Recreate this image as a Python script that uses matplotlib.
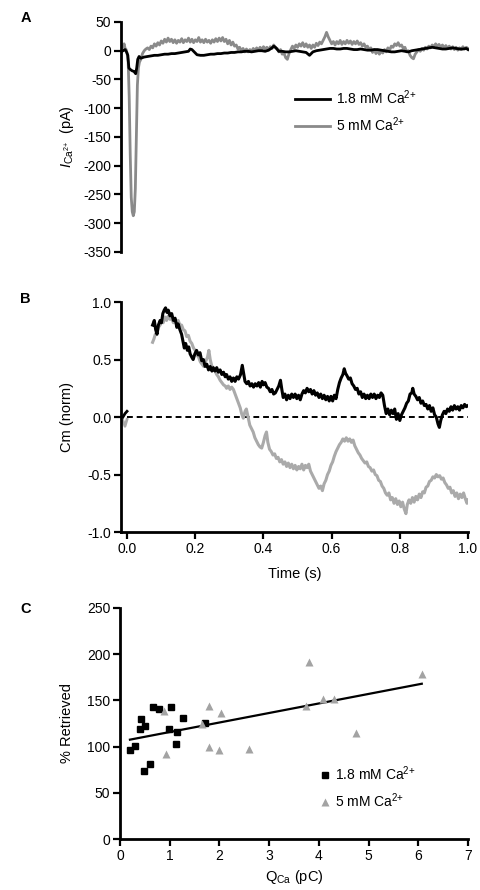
import matplotlib
matplotlib.use("Agg")
from matplotlib import pyplot as plt

plt.rcParams['font.family'] = ['Liberation Sans', 'DejaVu Sans']
plt.rcParams['mathtext.fontset'] = 'custom'
plt.rcParams['mathtext.rm'] = 'Liberation Sans'
plt.rcParams['mathtext.it'] = 'Liberation Sans:italic'
plt.rcParams['axes.unicode_minus'] = False
plt.rcParams['font.size'] = 10

# Panel A: calcium currents (time in s, current in pA)
t_a_low = [-0.018, -0.012, -0.006, -0.002, 0.002, 0.005, 0.010, 0.015, 0.020, 0.025, 0.028, 0.031, 0.035,
           0.040, 0.050, 0.060, 0.070, 0.080, 0.090, 0.100, 0.110, 0.120, 0.130, 0.140, 0.150, 0.160,
           0.170, 0.180, 0.185, 0.190, 0.200, 0.205, 0.215, 0.225, 0.235, 0.245, 0.255, 0.265, 0.275,
           0.285, 0.295, 0.305, 0.315, 0.325, 0.335, 0.345, 0.355, 0.365, 0.375, 0.385, 0.395, 0.405,
           0.415, 0.425, 0.430, 0.435, 0.445, 0.455, 0.465, 0.475, 0.485, 0.495, 0.505, 0.515, 0.525,
           0.535, 0.545, 0.555, 0.565, 0.575, 0.585, 0.595, 0.605, 0.615, 0.625, 0.635, 0.645, 0.655,
           0.665, 0.675, 0.685, 0.695, 0.705, 0.715, 0.725, 0.735, 0.745, 0.755, 0.765, 0.775, 0.785,
           0.795, 0.805, 0.815, 0.825, 0.835, 0.845, 0.855, 0.865, 0.875, 0.885, 0.895, 0.905, 0.915,
           0.925, 0.935, 0.945, 0.955, 0.965, 0.975, 0.985, 0.995, 1.000]
i_a_low = [-2, 0, 2, -2, -8, -30, -33, -35, -36, -40, -30, -15, -10,
           -13, -11, -10, -9, -8, -8, -7, -6, -6, -5, -5, -4, -3,
           -2, -1, 3, 2, -4, -7, -8, -8, -7, -6, -6, -5, -5,
           -4, -4, -3, -3, -2, -2, -1, -1, -2, -1, 0, 0, -1,
           1, 5, 8, 6, -1, -1, -2, -2, -1, 0, -1, -2, -3,
           -8, -2, 0, 1, 2, 3, 4, 4, 3, 3, 4, 4, 3,
           2, 2, 3, 2, 1, 1, 2, 2, 1, 0, -1, -2, -2,
           -1, 0, -1, -2, 0, 1, 2, 3, 4, 5, 6, 5, 4,
           3, 3, 4, 5, 4, 3, 3, 4, 2]

t_a_high = [-0.018, -0.015, -0.012, -0.009, -0.006, -0.003, 0.000, 0.003, 0.006, 0.009, 0.012, 0.015,
            0.018, 0.021, 0.024, 0.027, 0.030, 0.033, 0.036, 0.040, 0.045, 0.050, 0.055, 0.060, 0.065,
            0.070, 0.075, 0.080, 0.085, 0.090, 0.095, 0.100, 0.105, 0.110, 0.115, 0.120, 0.125, 0.130,
            0.135, 0.140, 0.145, 0.150, 0.155, 0.160, 0.165, 0.170, 0.175, 0.180, 0.185, 0.190, 0.195,
            0.200, 0.205, 0.210, 0.215, 0.220, 0.225, 0.230, 0.235, 0.240, 0.245, 0.250, 0.255, 0.260,
            0.265, 0.270, 0.275, 0.280, 0.285, 0.290, 0.295, 0.300, 0.305, 0.310, 0.315, 0.320, 0.325,
            0.330, 0.335, 0.340, 0.345, 0.350, 0.355, 0.360, 0.365, 0.370, 0.375, 0.380, 0.385, 0.390,
            0.395, 0.400, 0.405, 0.410, 0.415, 0.420, 0.425, 0.430, 0.435, 0.440, 0.445, 0.450, 0.455,
            0.460, 0.465, 0.470, 0.475, 0.480, 0.485, 0.490, 0.495, 0.500, 0.505, 0.510, 0.515, 0.520,
            0.525, 0.530, 0.535, 0.540, 0.545, 0.550, 0.555, 0.560, 0.565, 0.570, 0.575, 0.580, 0.585,
            0.590, 0.595, 0.600, 0.605, 0.610, 0.615, 0.620, 0.625, 0.630, 0.635, 0.640, 0.645, 0.650,
            0.655, 0.660, 0.665, 0.670, 0.675, 0.680, 0.685, 0.690, 0.695, 0.700, 0.705, 0.710, 0.715,
            0.720, 0.725, 0.730, 0.735, 0.740, 0.745, 0.750, 0.755, 0.760, 0.765, 0.770, 0.775, 0.780,
            0.785, 0.790, 0.795, 0.800, 0.805, 0.810, 0.815, 0.820, 0.825, 0.830, 0.835, 0.840, 0.845,
            0.850, 0.855, 0.860, 0.865, 0.870, 0.875, 0.880, 0.885, 0.890, 0.895, 0.900, 0.905, 0.910,
            0.915, 0.920, 0.925, 0.930, 0.935, 0.940, 0.945, 0.950, 0.955, 0.960, 0.965, 0.970, 0.975,
            0.980, 0.985, 0.990, 0.995, 1.000]
i_a_high = [5, 10, 6, 12, 4, 2, -5, -20, -80, -180, -255, -280,
            -287, -280, -240, -150, -60, -30, -20, -15, -5, 0, 3, 5, 2,
            8, 5, 12, 8, 14, 10, 17, 13, 20, 15, 22, 16, 20,
            14, 19, 13, 18, 15, 21, 14, 19, 16, 22, 15, 20, 14,
            19, 16, 23, 15, 19, 14, 20, 15, 18, 13, 19, 15, 21,
            16, 22, 17, 23, 16, 20, 12, 18, 10, 15, 8, 10, 3,
            6, 0, 4, -2, 3, -2, 2, -1, 4, 0, 5, 1, 6,
            2, 7, 3, 6, 1, 7, 4, 10, 5, 4, -2, 2, -6,
            -4, -12, -15, -5, 2, 8, 4, 10, 6, 12, 8, 14, 7,
            12, 6, 10, 4, 10, 6, 13, 9, 15, 12, 18, 24, 32,
            24, 18, 12, 16, 10, 16, 12, 18, 11, 16, 12, 18, 13,
            17, 11, 16, 12, 17, 11, 14, 8, 12, 6, 8, 2, 5,
            -3, 2, -5, 0, -6, -1, -4, 2, -2, 5, 1, 8, 6,
            12, 9, 14, 8, 10, 4, 6, -2, 0, -8, -12, -14, -6,
            -2, 2, -1, 4, 1, 6, 3, 8, 5, 10, 7, 12, 8,
            11, 6, 10, 5, 9, 4, 8, 3, 7, 2, 6, 1, 5,
            2, 7, 3, 6, 4]

# Panel B: normalised capacitance
t_b_pre = [-0.012, -0.006, 0.000]
cm_b_low_pre = [0.00, 0.03, 0.05]
cm_b_high_pre = [-0.03, -0.08, -0.02]

t_b_low = [0.075, 0.080, 0.084, 0.088, 0.092, 0.097, 0.101, 0.105, 0.109, 0.113, 0.117, 0.121, 0.126,
           0.131, 0.136, 0.141, 0.146, 0.150, 0.155, 0.160, 0.164, 0.168, 0.172, 0.177, 0.181, 0.185,
           0.190, 0.194, 0.199, 0.204, 0.209, 0.214, 0.219, 0.224, 0.229, 0.234, 0.239, 0.244, 0.249,
           0.253, 0.258, 0.263, 0.268, 0.273, 0.278, 0.283, 0.288, 0.292, 0.297, 0.302, 0.307, 0.312,
           0.317, 0.322, 0.327, 0.333, 0.338, 0.342, 0.346, 0.351, 0.356, 0.361, 0.366, 0.371, 0.376,
           0.381, 0.386, 0.391, 0.396, 0.400, 0.405, 0.410, 0.415, 0.420, 0.425, 0.430, 0.435, 0.440,
           0.445, 0.450, 0.454, 0.458, 0.463, 0.468, 0.473, 0.478, 0.483, 0.488, 0.493, 0.498, 0.503,
           0.508, 0.513, 0.518, 0.523, 0.528, 0.533, 0.538, 0.543, 0.548, 0.553, 0.558, 0.563, 0.568,
           0.573, 0.578, 0.583, 0.588, 0.593, 0.598, 0.603, 0.608, 0.613, 0.618, 0.623, 0.628, 0.633,
           0.637, 0.641, 0.645, 0.650, 0.655, 0.660, 0.665, 0.670, 0.675, 0.680, 0.685, 0.690, 0.695,
           0.700, 0.705, 0.710, 0.715, 0.720, 0.725, 0.730, 0.735, 0.740, 0.745, 0.750, 0.755, 0.760,
           0.765, 0.770, 0.775, 0.780, 0.785, 0.790, 0.795, 0.800, 0.805, 0.810, 0.815, 0.820, 0.825,
           0.830, 0.835, 0.838, 0.842, 0.847, 0.852, 0.857, 0.862, 0.867, 0.872, 0.877, 0.882, 0.887,
           0.892, 0.897, 0.902, 0.907, 0.912, 0.916, 0.920, 0.925, 0.930, 0.935, 0.940, 0.945, 0.950,
           0.955, 0.960, 0.965, 0.970, 0.975, 0.980, 0.985, 0.990, 0.995, 1.000]
cm_b_low = [0.80, 0.84, 0.76, 0.72, 0.80, 0.84, 0.82, 0.90, 0.93, 0.95, 0.91, 0.93, 0.88,
            0.90, 0.84, 0.86, 0.78, 0.81, 0.76, 0.72, 0.66, 0.60, 0.64, 0.58, 0.61, 0.55,
            0.52, 0.50, 0.55, 0.58, 0.54, 0.56, 0.49, 0.50, 0.44, 0.46, 0.41, 0.44, 0.40,
            0.43, 0.40, 0.43, 0.39, 0.41, 0.37, 0.39, 0.35, 0.37, 0.33, 0.35, 0.31, 0.34,
            0.31, 0.35, 0.33, 0.37, 0.45, 0.38, 0.31, 0.29, 0.31, 0.27, 0.29, 0.26, 0.29,
            0.27, 0.30, 0.26, 0.31, 0.28, 0.30, 0.26, 0.25, 0.22, 0.24, 0.20, 0.21, 0.24,
            0.27, 0.32, 0.24, 0.17, 0.20, 0.15, 0.19, 0.16, 0.20, 0.17, 0.20, 0.16, 0.19,
            0.15, 0.20, 0.23, 0.21, 0.25, 0.22, 0.24, 0.20, 0.23, 0.19, 0.21, 0.17, 0.20,
            0.16, 0.19, 0.15, 0.18, 0.14, 0.18, 0.14, 0.19, 0.16, 0.24, 0.30, 0.34, 0.37,
            0.42, 0.38, 0.36, 0.33, 0.34, 0.29, 0.27, 0.24, 0.25, 0.20, 0.22, 0.17, 0.20,
            0.16, 0.19, 0.16, 0.20, 0.17, 0.20, 0.16, 0.19, 0.17, 0.21, 0.19, 0.10, 0.03,
            0.07, 0.02, 0.06, 0.03, 0.07, -0.02, 0.03, -0.03, 0.02, 0.05, 0.08, 0.12, 0.14,
            0.20, 0.21, 0.25, 0.20, 0.18, 0.15, 0.17, 0.12, 0.14, 0.10, 0.11, 0.07, 0.10,
            0.05, 0.08, 0.02, 0.00, -0.06, -0.09, -0.03, 0.02, 0.05, 0.03, 0.07, 0.05, 0.09,
            0.06, 0.10, 0.07, 0.09, 0.06, 0.10, 0.08, 0.11, 0.09, 0.10]

t_b_high = [0.075, 0.079, 0.083, 0.088, 0.092, 0.097, 0.102, 0.106, 0.111, 0.116, 0.121, 0.126, 0.131,
            0.136, 0.141, 0.146, 0.150, 0.155, 0.160, 0.165, 0.170, 0.175, 0.180, 0.185, 0.190, 0.195,
            0.200, 0.205, 0.210, 0.215, 0.220, 0.225, 0.230, 0.236, 0.240, 0.244, 0.248, 0.253, 0.258,
            0.263, 0.268, 0.273, 0.278, 0.283, 0.288, 0.292, 0.297, 0.302, 0.307, 0.312, 0.317, 0.322,
            0.327, 0.332, 0.336, 0.341, 0.346, 0.350, 0.355, 0.360, 0.365, 0.370, 0.375, 0.380, 0.385,
            0.390, 0.395, 0.400, 0.405, 0.409, 0.413, 0.418, 0.423, 0.428, 0.433, 0.438, 0.443, 0.448,
            0.453, 0.458, 0.463, 0.468, 0.473, 0.478, 0.483, 0.488, 0.493, 0.498, 0.503, 0.508, 0.513,
            0.518, 0.523, 0.528, 0.533, 0.538, 0.543, 0.548, 0.553, 0.558, 0.563, 0.568, 0.573, 0.578,
            0.583, 0.588, 0.593, 0.598, 0.603, 0.608, 0.613, 0.618, 0.623, 0.628, 0.633, 0.638, 0.643,
            0.648, 0.653, 0.658, 0.663, 0.668, 0.673, 0.678, 0.683, 0.688, 0.693, 0.698, 0.703, 0.708,
            0.713, 0.718, 0.723, 0.728, 0.733, 0.738, 0.743, 0.748, 0.753, 0.758, 0.763, 0.768, 0.773,
            0.778, 0.783, 0.788, 0.793, 0.798, 0.803, 0.808, 0.813, 0.818, 0.822, 0.827, 0.832, 0.837,
            0.842, 0.847, 0.852, 0.857, 0.862, 0.867, 0.872, 0.877, 0.882, 0.887, 0.892, 0.897, 0.902,
            0.907, 0.912, 0.917, 0.922, 0.927, 0.932, 0.937, 0.942, 0.947, 0.952, 0.957, 0.962, 0.967,
            0.972, 0.977, 0.982, 0.987, 0.992, 0.997, 1.000]
cm_b_high = [0.65, 0.68, 0.72, 0.74, 0.78, 0.80, 0.84, 0.82, 0.87, 0.84, 0.88, 0.85, 0.86,
             0.82, 0.85, 0.81, 0.84, 0.80, 0.80, 0.76, 0.75, 0.70, 0.71, 0.66, 0.64, 0.60,
             0.58, 0.54, 0.52, 0.48, 0.46, 0.44, 0.48, 0.52, 0.58, 0.50, 0.45, 0.42, 0.40,
             0.37, 0.35, 0.32, 0.30, 0.28, 0.27, 0.25, 0.27, 0.24, 0.26, 0.24, 0.20, 0.16,
             0.12, 0.08, 0.03, -0.01, 0.05, 0.07, 0.00, -0.07, -0.10, -0.13, -0.18, -0.21, -0.24,
             -0.26, -0.27, -0.22, -0.16, -0.13, -0.22, -0.28, -0.30, -0.33, -0.32, -0.36, -0.35, -0.39,
             -0.37, -0.41, -0.39, -0.43, -0.40, -0.44, -0.41, -0.45, -0.42, -0.46, -0.43, -0.45, -0.41,
             -0.46, -0.42, -0.44, -0.41, -0.47, -0.50, -0.53, -0.56, -0.59, -0.62, -0.60, -0.64, -0.58,
             -0.55, -0.50, -0.47, -0.42, -0.39, -0.34, -0.30, -0.27, -0.24, -0.22, -0.19, -0.21, -0.18,
             -0.21, -0.19, -0.22, -0.20, -0.25, -0.28, -0.31, -0.33, -0.36, -0.38, -0.40, -0.39, -0.43,
             -0.44, -0.47, -0.46, -0.50, -0.51, -0.55, -0.56, -0.60, -0.62, -0.66, -0.68, -0.66, -0.72,
             -0.70, -0.75, -0.71, -0.76, -0.73, -0.78, -0.74, -0.80, -0.84, -0.76, -0.72, -0.75, -0.70,
             -0.74, -0.69, -0.72, -0.67, -0.70, -0.65, -0.66, -0.61, -0.60, -0.56, -0.55, -0.52, -0.53,
             -0.50, -0.52, -0.51, -0.54, -0.53, -0.57, -0.59, -0.62, -0.61, -0.66, -0.64, -0.69, -0.66,
             -0.71, -0.67, -0.70, -0.66, -0.71, -0.75, -0.72]

# Panel C: % retrieved vs calcium charge
q_low = [0.20, 0.30, 0.40, 0.43, 0.50, 0.48, 0.60, 0.67, 0.79, 1.03, 0.99, 1.14, 1.12, 1.27, 1.70]
ret_low = [96, 101, 119, 130, 122, 74, 81, 143, 141, 143, 119, 116, 103, 131, 126]

q_high = [0.89, 0.92, 1.64, 1.80, 1.78, 2.03, 2.00, 2.60, 3.74, 3.81, 4.08, 4.30, 4.75, 6.07]
ret_high = [138, 92, 124, 144, 100, 136, 96, 97, 144, 192, 152, 152, 115, 178]

fit_q = [0.20, 6.07]
fit_ret = [107.5, 168]

label_low = "1.8 mM Ca$^{2\\text{+}}$"
label_high = "5 mM Ca$^{2\\text{+}}$"

GREY_A = "#8a8a8a"
GREY_B = "#aaaaaa"
GREY_C = "#a3a3a3"


def style_axis(ax):
    for side in ["top", "right"]:
        ax.spines[side].set_visible(False)
    for side in ["left", "bottom"]:
        ax.spines[side].set_linewidth(2)
    ax.tick_params(direction="out", length=5, width=1.6, labelsize=10, pad=2)


def main():
    fig = plt.figure(figsize=(4.81, 8.90), dpi=100)

    # A
    ax_a = fig.add_axes([0.2516, 0.7169, 0.7235, 0.2584])
    ax_a.plot(t_a_high, i_a_high, color=GREY_A, lw=2, label=label_high, zorder=2)
    ax_a.plot(t_a_low, i_a_low, color="black", lw=2, label=label_low, zorder=3)
    ax_a.set_xlim(-0.018, 1.003)
    ax_a.set_ylim(-350, 50)
    ax_a.set_yticks(range(-350, 51, 50))
    style_axis(ax_a)
    ax_a.spines["bottom"].set_visible(False)
    ax_a.set_xticks([])
    ax_a.set_ylabel("$I_{\\mathrm{Ca}^{2\\text{+}}}$  (pA)", fontsize=10.5, labelpad=5)
    handles, labels = ax_a.get_legend_handles_labels()
    leg = ax_a.legend(handles[::-1], labels[::-1], loc="upper left", bbox_to_anchor=(0.465, 0.765),
                      frameon=False, handlelength=2.5, handletextpad=0.4, labelspacing=0.6, fontsize=10)
    for line in leg.get_lines():
        line.set_linewidth(2)
    fig.text(0.042, 0.980, "A", fontsize=10.5, fontweight="bold", va="center")

    # B
    ax_b = fig.add_axes([0.2516, 0.4022, 0.7214, 0.2584])
    ax_b.plot([0, 1.0], [0, 0], color="black", lw=1.4, ls=(0, (3, 2)), zorder=1)
    ax_b.plot(t_b_pre, cm_b_high_pre, color=GREY_B, lw=2)
    ax_b.plot(t_b_pre, cm_b_low_pre, color="black", lw=2)
    ax_b.plot(t_b_high, cm_b_high, color=GREY_B, lw=2.2, zorder=2)
    ax_b.plot(t_b_low, cm_b_low, color="black", lw=2.2, zorder=3)
    ax_b.set_xlim(-0.0176, 1.0)
    ax_b.set_ylim(-1.0, 1.0)
    ax_b.set_yticks([-1.0, -0.5, 0.0, 0.5, 1.0])
    ax_b.set_yticklabels(["-1.0", "-0.5", "0.0", "0.5", "1.0"])
    ax_b.set_xticks([0.0, 0.2, 0.4, 0.6, 0.8, 1.0])
    ax_b.set_xticklabels(["0.0", "0.2", "0.4", "0.6", "0.8", "1.0"])
    style_axis(ax_b)
    ax_b.set_ylabel("Cm (norm)", fontsize=10.5, labelpad=10)
    ax_b.set_xlabel("Time (s)", fontsize=10.5, labelpad=8)
    fig.text(0.042, 0.664, "B", fontsize=10.5, fontweight="bold", va="center")

    # C
    ax_c = fig.add_axes([0.2495, 0.0573, 0.7235, 0.2596])
    ax_c.plot(fit_q, fit_ret, color="black", lw=1.6, zorder=2)
    ax_c.plot(q_low, ret_low, "s", color="black", ms=5, label=label_low, zorder=3)
    ax_c.plot(q_high, ret_high, "^", color=GREY_C, ms=6, mec="none", label=label_high, zorder=3)
    ax_c.set_xlim(0, 7)
    ax_c.set_ylim(0, 250)
    ax_c.set_xticks(range(0, 8))
    ax_c.set_yticks(range(0, 251, 50))
    style_axis(ax_c)
    ax_c.set_ylabel("% Retrieved", fontsize=10.5, labelpad=9)
    ax_c.set_xlabel("Q$_{\\mathrm{Ca}}$ (pC)", fontsize=10.5, labelpad=4)
    ax_c.legend(loc="upper left", bbox_to_anchor=(0.534, 0.378), frameon=False,
                handlelength=1.0, handletextpad=0.2, labelspacing=0.6, fontsize=10)
    fig.text(0.042, 0.316, "C", fontsize=10.5, fontweight="bold", va="center")

    fig.savefig("out.png", dpi=100)


if __name__ == "__main__":
    main()
